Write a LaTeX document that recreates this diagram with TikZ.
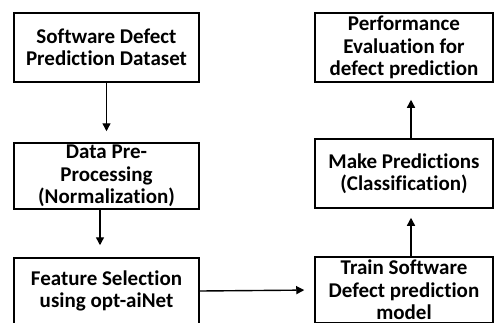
\documentclass[tikz,border=0pt]{standalone}
\usepackage{fontspec}
\setmainfont{Carlito}[Ligatures=NoCommon]
\usetikzlibrary{arrows.meta}
\begin{document}
\begin{tikzpicture}[x=1pt,y=-1pt,
  box/.style={draw,line width=1.5pt,inner sep=0pt,minimum width=185pt,minimum height=69pt,
    align=center,font=\fontsize{21}{22.5}\selectfont\bfseries},
  rbox/.style={box,minimum width=178pt},
  arr/.style={line width=1.4pt,-{Triangle[length=8pt,width=8pt]}}]
\useasboundingbox (0,0) rectangle (494,322);
\begin{scope}
\clip (0,0) rectangle (494,322);
\node[box] (ds) at (106.5,47.5) {Software Defect\\Prediction Dataset};
\node[box,minimum height=66pt] (pp) at (106.5,176) {Data Pre-\\Processing\\(Normalization)};
\node[box,minimum height=66pt] (fs) at (106.5,291) {Feature Selection\\using opt-aiNet};
\node[rbox] (pe) at (404,47.5) {Performance\\Evaluation for\\defect prediction};
\node[rbox] (mp) at (404,173.5) {Make Predictions\\(Classification)};
\node[rbox,minimum height=66pt] (tr) at (404,290) {Train Software\\Defect prediction\\model};
\end{scope}
\draw[arr,shorten >=11pt] (ds.south) -- (pp.north);
\draw[arr,shorten >=12pt] ([xshift=-6.5pt]pp.south) -- ([xshift=-6.5pt]fs.north);
\draw[arr,shorten >=10pt] (fs.east) -- (tr.west);
\draw[arr,shorten >=9pt] ([xshift=7pt]tr.north) -- ([xshift=7pt]mp.south);
\draw[arr,shorten >=17pt] ([xshift=7pt]mp.north) -- ([xshift=7pt]pe.south);
\end{tikzpicture}
\end{document}
